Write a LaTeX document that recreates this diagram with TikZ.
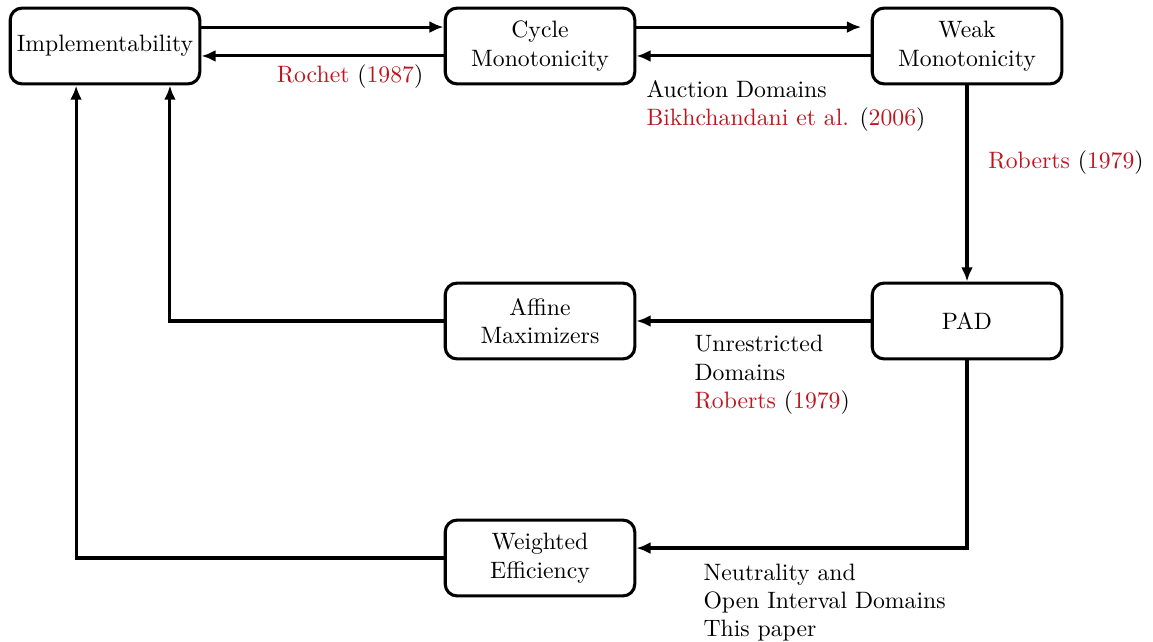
\documentclass[tikz,border=0pt]{standalone}
\usetikzlibrary{arrows.meta}
\definecolor{citered}{RGB}{190,20,30}
\newcommand{\citeref}[2]{\textcolor{citered}{#1} (\textcolor{citered}{#2})}
\begin{document}
\begin{tikzpicture}[x=0.422pt, y=-0.422pt,
                    line width=1.3pt,
                    >={Latex[length=6pt,width=5pt]},
                    ]
    \tikzstyle{block}=[draw, rounded corners=5pt, minimum width=80pt, minimum height=32pt, align=center]
    \tikzstyle{note}=[anchor=north west, align=left, inner sep=0pt]
    \useasboundingbox (0,0) rectangle (1153,641);

    \node[block, inner xsep=1pt] (impl) at (105,46) {Implementability};
    \node[block] (cyc) at (540,46) {Cycle\\Monotonicity};
    \node[block] (weak) at (967,46) {Weak\\Monotonicity};
    \node[block] (aff) at (540,321) {Affine\\Maximizers};
    \node[block] (pad) at (967,321) {PAD};
    \node[block] (wef) at (540,558) {Weighted\\Efficiency};

    \draw[->] ([yshift=8pt]impl.east) -- ([yshift=8pt]cyc.west);
    \draw[->] ([yshift=-4.2pt]cyc.west) -- ([yshift=-4.2pt]impl.east);
    \draw[->, shorten >=4pt] ([yshift=8pt]cyc.east) -- ([yshift=8pt]weak.west);
    \draw[->] ([yshift=-4.2pt]weak.west) -- ([yshift=-4.2pt]cyc.east);
    \draw[->] (weak) -- (pad);
    \draw[->] (pad) -- (aff);
    \draw[->] (aff.west) -| ([xshift=27.4pt]impl.south);
    \draw[->, line width=1.6pt] (pad.south) |- ([yshift=4.2pt]wef.east);
    \draw[->] (wef.west) -| ([xshift=-12.2pt]impl.south);

    \node (lrochet) at (350,77) {\citeref{Rochet}{1987}};
    \node[note] (lauction) at (645,79) {Auction Domains\\\citeref{Bikhchandani et al.}{2006}};
    \node (lroberts) at (1066,163) {\citeref{Roberts}{1979}};
    \node[note] (lunres) at (693,334) {Unrestricted\\Domains\\\citeref{Roberts}{1979}};
    \node[note] (lneutral) at (702,562) {Neutrality and\\Open Interval Domains\\This paper};
\end{tikzpicture}
\end{document}
